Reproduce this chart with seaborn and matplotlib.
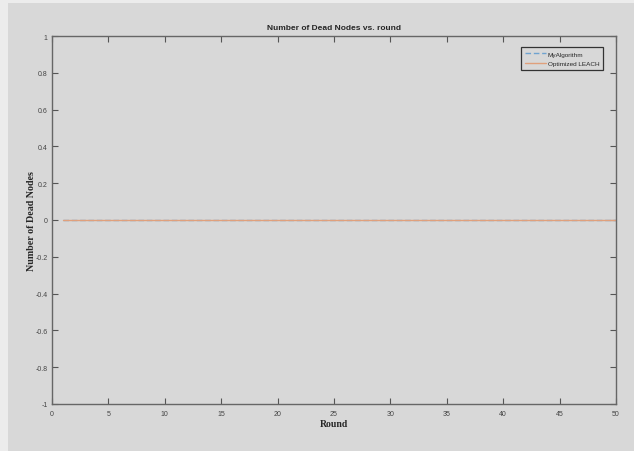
import matplotlib
matplotlib.use("Agg")
import matplotlib.pyplot as plt
import seaborn as sns
import pandas as pd
from matplotlib.patches import Rectangle

rounds = [1, 2, 3, 4, 5, 6, 7, 8, 9, 10, 11, 12, 13, 14, 15, 16, 17, 18, 19, 20,
          21, 22, 23, 24, 25, 26, 27, 28, 29, 30, 31, 32, 33, 34, 35, 36, 37, 38, 39, 40,
          41, 42, 43, 44, 45, 46, 47, 48, 49, 50]
dead_myalgorithm = [0, 0, 0, 0, 0, 0, 0, 0, 0, 0, 0, 0, 0, 0, 0, 0, 0, 0, 0, 0,
                    0, 0, 0, 0, 0, 0, 0, 0, 0, 0, 0, 0, 0, 0, 0, 0, 0, 0, 0, 0,
                    0, 0, 0, 0, 0, 0, 0, 0, 0, 0]
dead_leach = [0, 0, 0, 0, 0, 0, 0, 0, 0, 0, 0, 0, 0, 0, 0, 0, 0, 0, 0, 0,
              0, 0, 0, 0, 0, 0, 0, 0, 0, 0, 0, 0, 0, 0, 0, 0, 0, 0, 0, 0,
              0, 0, 0, 0, 0, 0, 0, 0, 0, 0]
series_names = ["MyAlgorithm", "Optimized LEACH"]
x_ticks = [0, 5, 10, 15, 20, 25, 30, 35, 40, 45, 50]
y_ticks = [-1, -0.8, -0.6, -0.4, -0.2, 0, 0.2, 0.4, 0.6, 0.8, 1]
y_tick_labels = ["-1", "-0.8", "-0.6", "-0.4", "-0.2", "0", "0.2", "0.4", "0.6", "0.8", "1"]

df = pd.DataFrame({
    "Round": rounds + rounds,
    "Dead": dead_myalgorithm + dead_leach,
    "Series": [series_names[0]] * len(rounds) + [series_names[1]] * len(rounds),
})

sns.set_style("ticks")
narrow = ["Liberation Sans Narrow", "Liberation Sans", "DejaVu Sans"]
serif = ["Liberation Serif", "DejaVu Serif"]
plt.rcParams["font.family"] = narrow

bg = "#d8d8d8"
fig = plt.figure(figsize=(6.34, 4.52), dpi=100, facecolor="#ececec")
fig.patches.append(Rectangle((8 / 634, 0), 1, 1 - 4 / 452, transform=fig.transFigure,
                             facecolor=bg, edgecolor="none", zorder=-10))
ax = fig.add_axes([52 / 634, 1 - 405 / 452, 564 / 634, 368 / 452])
ax.set_facecolor(bg)

palette = {series_names[0]: "#6fa3d0", series_names[1]: "#e0a07c"}
dashes = {series_names[0]: (4, 2), series_names[1]: ""}
sns.lineplot(data=df, x="Round", y="Dead", hue="Series", style="Series",
             palette=palette, dashes=dashes, linewidth=1.0, ax=ax,
             hue_order=series_names, style_order=series_names)

ax.set_xlim(0, 50)
ax.set_ylim(-1, 1)
ax.set_xticks(x_ticks)
ax.set_xticklabels([str(t) for t in x_ticks])
ax.set_yticks(y_ticks)
ax.set_yticklabels(y_tick_labels)
ax.tick_params(direction="in", top=True, right=True, length=4, width=0.8,
               labelsize=5.0, colors="#555555", labelcolor="#444444", pad=4)
ax.tick_params(axis="y", pad=3)
for s in ax.spines.values():
    s.set_visible(True)
    s.set_color("#666666")
    s.set_linewidth(1.0)

ax.set_title("Number of Dead Nodes vs. round", fontsize=6.0, fontweight="bold",
             family=narrow, pad=5)
ax.set_xlabel("Round", fontsize=7, fontweight="bold", family=serif, labelpad=2)
ax.set_ylabel("Number of Dead Nodes", fontsize=7.2, fontweight="bold", family=serif)
ax.yaxis.set_label_coords((35.5 - 52) / 564, 0.5)

leg = ax.legend(loc="upper right", fontsize=4.6, frameon=True, fancybox=False,
                borderpad=0.6, handlelength=3.4, handletextpad=0.2,
                labelspacing=0.6, bbox_to_anchor=(0.983, 0.978))
leg.get_frame().set_edgecolor("#333333")
leg.get_frame().set_facecolor(bg)
leg.get_frame().set_linewidth(0.9)
leg.get_frame().set_alpha(1)

fig.savefig("out.png", dpi=100, facecolor=fig.get_facecolor())
